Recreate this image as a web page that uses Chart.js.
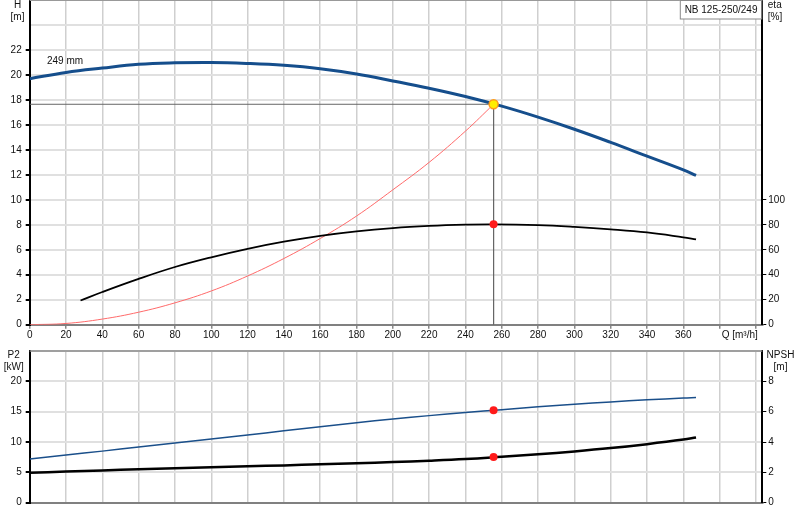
<!DOCTYPE html>
<html>
<head>
<meta charset="utf-8">
<script src="https://cdn.jsdelivr.net/npm/chart.js@4.4.1/dist/chart.umd.min.js"></script>
<style>
body { margin: 0; background: #fff; }
#wrap { position: relative; width: 800px; height: 520px; overflow: hidden; }
#topChart, #bottomChart { position: absolute; left: 0; }
</style>
</head>
<body>
<div id="wrap">
  <canvas id="topChart" width="800" height="345"></canvas>
  <canvas id="bottomChart" width="800" height="175"></canvas>
</div>
<script>
// pump curve NB 125-250/249
const pumpName = 'NB 125-250/249';
const impellerLabel = '249 mm';

// Q [m3/h] for head, P2 and NPSH
const flowQ = [0, 20, 40, 60, 80, 100, 120, 140, 160, 180, 200, 220, 240, 260, 280, 300, 320, 340, 360, 367];
const headH = [19.7, 20.2, 20.55, 20.85, 20.97, 21.0, 20.92, 20.77, 20.5, 20.08, 19.52, 18.93, 18.27, 17.5, 16.62, 15.65, 14.6, 13.5, 12.4, 11.95];
const powerP2 = [7.19, 7.85, 8.5, 9.17, 9.84, 10.5, 11.17, 11.84, 12.5, 13.17, 13.8, 14.35, 14.85, 15.33, 15.8, 16.22, 16.6, 16.95, 17.25, 17.32];
const npshM = [1.97, 2.05, 2.13, 2.2, 2.27, 2.33, 2.4, 2.46, 2.53, 2.6, 2.68, 2.77, 2.88, 3.03, 3.19, 3.38, 3.6, 3.86, 4.16, 4.3];

// efficiency starts later
const etaQ = [28, 40, 60, 80, 100, 120, 140, 160, 180, 200, 220, 240, 255.5, 280, 300, 320, 340, 360, 367];
const etaPct = [19.4, 26.2, 36.7, 46.2, 54, 60.8, 66.5, 71.2, 74.8, 77.4, 79.1, 80.1, 80.4, 79.7, 78.3, 76.4, 73.9, 70.0, 68.4];

// system curve up to the duty point
const sysQ = [0, 20, 40, 60, 80, 100, 120, 140, 160, 180, 200, 220, 240, 255.5];
const sysH = [0, 0.1, 0.45, 1.0, 1.75, 2.7, 3.9, 5.3, 6.9, 8.7, 10.8, 13.0, 15.5, 17.65];

// duty point
const dutyQ = 255.5;
const dutyH = 17.65;
const dutyEta = 80.4;
const dutyP2 = 15.23;
const dutyNpsh = 3.02;

const FONT = { family: '"Liberation Sans", Arial, sans-serif', size: 10 };
const TXT = '#111';

function pts(xs, ys) { return xs.map((x, i) => ({ x: x, y: ys[i] })); }

function fixWidth(w) {
  return function(scale) { scale.width = w; };
}
function fixHeight(h) {
  return function(scale) { scale.height = h; scale.paddingLeft = 0; scale.paddingRight = 0; };
}
function hideAbove(lim) {
  return function(ctx) { return ctx.tick && ctx.tick.value > lim ? 'rgba(0,0,0,0)' : '#000'; };
}

function xScale(showLabels, h) {
  return {
    type: 'linear', min: 0, max: 403.5,
    ticks: {
      display: showLabels, stepSize: 20, includeBounds: false, autoSkip: false, maxRotation: 0,
      font: FONT, color: TXT, padding: 1,
      callback: v => v >= 380 ? '' : v
    },
    grid: { color: '#cfcfcf', lineWidth: 1.5, tickLength: 4, tickColor: '#888', drawTicks: showLabels },
    border: { color: '#808080', width: 2 },
    afterFit: fixHeight(h)
  };
}

function yLeft(max, step, lastLabel) {
  return {
    position: 'left', min: 0, max: max,
    ticks: { stepSize: step, font: FONT, color: TXT, padding: 4, callback: v => v > lastLabel ? '' : v },
    grid: { color: '#e0e0e0', lineWidth: 2, tickLength: 4, tickColor: hideAbove(lastLabel) },
    border: { color: '#000', width: 2 },
    afterFit: fixWidth(29.7)
  };
}

function yRight(max, step, lastLabel) {
  return {
    position: 'right', min: 0, max: max,
    ticks: { stepSize: step, font: FONT, color: TXT, padding: 2, callback: v => v > lastLabel ? '' : v },
    grid: { drawOnChartArea: false, tickLength: 4, tickColor: hideAbove(lastLabel), lineWidth: 1 },
    border: { color: '#000', width: 2 },
    afterFit: fixWidth(37.7)
  };
}

function text(ctx, s, x, y, align) {
  ctx.fillStyle = TXT;
  ctx.font = '10px "Liberation Sans", Arial, sans-serif';
  ctx.textAlign = align || 'center';
  ctx.textBaseline = 'middle';
  ctx.fillText(s, x, y);
}

const topDecor = {
  id: 'topDecor',
  afterDraw(chart) {
    const ctx = chart.ctx, a = chart.chartArea;
    const xs = chart.scales.x, ys = chart.scales.y;
    ctx.save();
    ctx.strokeStyle = '#999';
    ctx.lineWidth = 1;
    ctx.beginPath(); ctx.moveTo(a.left, a.top + 0.5); ctx.lineTo(a.right, a.top + 0.5); ctx.stroke();
    // name box
    const bw = 81.5, bh = 18.5, bx = a.right - 1 - bw;
    ctx.fillStyle = '#fff';
    ctx.fillRect(bx, a.top + 0.5, bw, bh);
    ctx.strokeStyle = '#8a8a8a';
    ctx.strokeRect(bx + 0.5, a.top + 0.5, bw, bh);
    text(ctx, pumpName, bx + bw / 2 + 0.5, a.top + 10);
    text(ctx, impellerLabel, xs.getPixelForValue(9.5), ys.getPixelForValue(21.1), 'left');
    text(ctx, 'H', 17.5, a.top + 5.5);
    text(ctx, '[m]', 17.5, a.top + 17);
    text(ctx, 'eta', a.right + 5.5, a.top + 5.5, 'left');
    text(ctx, '[%]', a.right + 5.5, a.top + 17, 'left');
    text(ctx, 'Q [m\u00b3/h]', xs.getPixelForValue(380) + 2, a.bottom + 10.5, 'left');
    ctx.restore();
  }
};

const bottomDecor = {
  id: 'bottomDecor',
  afterDraw(chart) {
    const ctx = chart.ctx, a = chart.chartArea;
    ctx.save();
    ctx.strokeStyle = '#8a8a8a';
    ctx.lineWidth = 1.5;
    ctx.beginPath(); ctx.moveTo(a.left, a.top); ctx.lineTo(a.right, a.top); ctx.stroke();
    text(ctx, 'P2', 13.7, a.top + 4.5);
    text(ctx, '[kW]', 13.7, a.top + 16.5);
    text(ctx, 'NPSH', 780.5, a.top + 4.5);
    text(ctx, '[m]', 780.5, a.top + 16.5);
    ctx.restore();
  }
};

function curve(xs, ys, axis, color, width) {
  return { data: pts(xs, ys), yAxisID: axis, showLine: true, pointRadius: 0, fill: false,
    tension: 0.4, borderColor: color, borderWidth: width, order: 1 };
}
function dot(x, y, axis, fillColor, edge) {
  return { data: [{ x: x, y: y }], yAxisID: axis, showLine: false, pointRadius: edge ? 4.5 : 4,
    pointBackgroundColor: fillColor, pointBorderColor: edge || fillColor, pointBorderWidth: edge ? 1.5 : 0, order: 0 };
}

function topConfig() {
  return {
    type: 'scatter',
    data: {
      datasets: [
        dot(dutyQ, dutyH, 'y', '#ffee00', '#ff9a1a'),
        dot(dutyQ, dutyEta, 'y2', '#ff1a1a'),
        curve(flowQ, headH, 'y', '#154e8c', 3),
        curve(etaQ, etaPct, 'y2', '#000', 1.8),
        curve(sysQ, sysH, 'y', '#ff6a6a', 1),
        { data: [{ x: 0, y: dutyH }, { x: dutyQ, y: dutyH }, { x: dutyQ, y: 0 }], yAxisID: 'y', showLine: true,
          pointRadius: 0, borderColor: '#666', borderWidth: 1, tension: 0, order: 2 }
      ]
    },
    options: {
      responsive: false, animation: false, devicePixelRatio: 1,
      layout: { padding: 0 },
      plugins: { legend: { display: false }, tooltip: { enabled: false } },
      scales: { x: xScale(true, 20.3), y: yLeft(26, 2, 22), y2: yRight(260, 20, 100) }
    },
    plugins: [topDecor]
  };
}

function bottomConfig() {
  return {
    type: 'scatter',
    data: {
      datasets: [
        dot(dutyQ, dutyP2, 'y', '#ff1a1a'),
        dot(dutyQ, dutyNpsh, 'y2', '#ff1a1a'),
        curve(flowQ, powerP2, 'y', '#1a4f8a', 1.5),
        curve(flowQ, npshM, 'y2', '#000', 2.5)
      ]
    },
    options: {
      responsive: false, animation: false, devicePixelRatio: 1,
      layout: { padding: 0 },
      plugins: { legend: { display: false }, tooltip: { enabled: false } },
      scales: { x: xScale(false, 17.3), y: yLeft(25, 5, 20), y2: yRight(10, 2, 8) }
    },
    plugins: [bottomDecor]
  };
}

// place a chart so its plot area spans pageTop..pageBottom on the page
function placeChart(id, makeConfig, pageTop, pageBottom, axisH) {
  const el = document.getElementById(id);
  let chart = new Chart(el, makeConfig());
  const t = chart.chartArea.top;
  chart.destroy();
  const h = Math.round(pageBottom - pageTop + t + axisH);
  el.width = 800; el.height = h;
  el.style.width = '800px'; el.style.height = h + 'px';
  el.style.top = (pageTop - t) + 'px';
  return new Chart(el, makeConfig());
}

placeChart('topChart', topConfig, 0, 324.7, 20.3);
placeChart('bottomChart', bottomConfig, 350.7, 502.7, 17.3);
</script>
</body>
</html>
